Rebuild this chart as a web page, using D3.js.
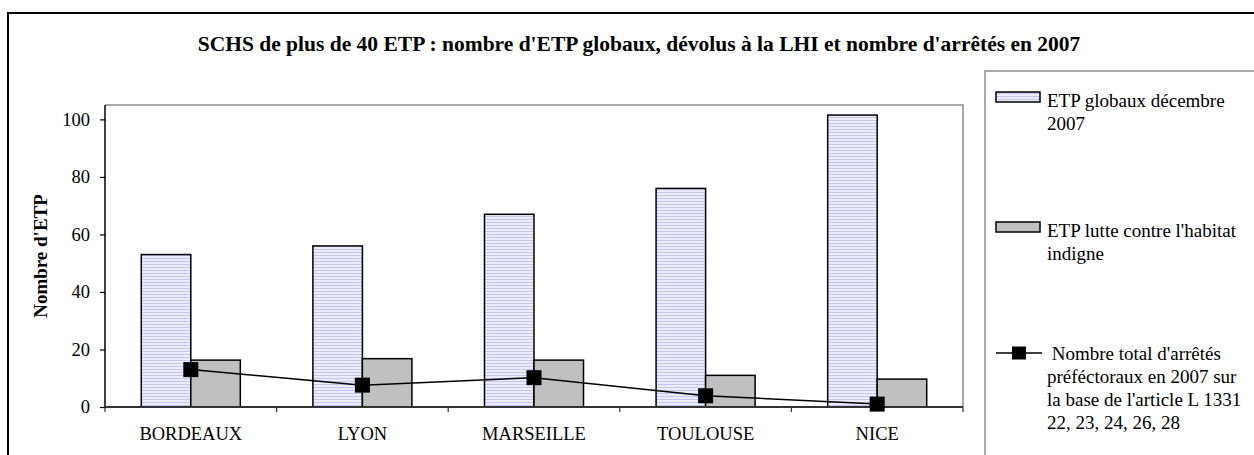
<!DOCTYPE html>
<html>
<head>
<meta charset="utf-8">
<script src="https://cdn.jsdelivr.net/npm/d3@7"></script>
<style>
  body { margin: 0; background: #fff; }
  svg text { font-family: "Liberation Serif", "Times New Roman", serif; fill: #000; }
</style>
</head>
<body>
<svg id="chart" width="1254" height="455"></svg>
<script>
// data
var categories = ["BORDEAUX", "LYON", "MARSEILLE", "TOULOUSE", "NICE"];
var etpGlobaux = [53, 56, 67, 76, 101.5];
var etpLhi = [16.3, 16.8, 16.3, 11, 9.7];
var arretes = [13, 7.6, 10.2, 3.9, 1];
var yTicks = [0, 20, 40, 60, 80, 100];
var seriesNames = ["ETP globaux décembre|2007",
                   "ETP lutte contre l'habitat|indigne",
                   " Nombre total d'arrêtés|préféctoraux en 2007 sur|la base de l'article L 1331|22, 23, 24, 26, 28"];

var svg = d3.select("#chart");

/* ==========================================================================
 * Patterns and frame
 * ========================================================================== */
var defs = svg.append("defs");
var pat = defs.append("pattern").attr("id", "stripes")
    .attr("patternUnits", "userSpaceOnUse").attr("width", 6).attr("height", 3);
pat.append("rect").attr("width", 6).attr("height", 3).attr("fill", "#ececff");
pat.append("rect").attr("width", 6).attr("height", 1).attr("fill", "#c4c4f6");

// outer frame, runs off the right and bottom
svg.append("rect").attr("x", 8).attr("y", 13).attr("width", 1270).attr("height", 470)
    .attr("fill", "none").attr("stroke", "#000").attr("stroke-width", 2);

svg.append("text").attr("x", 639).attr("y", 51).attr("text-anchor", "middle")
    .style("font-weight", "bold").style("font-size", "21.5px")
    .text("SCHS de plus de 40 ETP : nombre d'ETP globaux, dévolus à la LHI et nombre d'arrêtés en 2007");

/* ==========================================================================
 * Plot area
 * ========================================================================== */
var plotLeft = 105, plotRight = 963, plotTop = 105, plotBottom = 407;

var x0 = d3.scaleBand().domain(categories).range([plotLeft, plotRight]);
var x1 = d3.scaleBand().domain([0, 1]).range([0, x0.bandwidth()]).paddingOuter(0.733);
var y = d3.scaleLinear().domain([0, 105]).range([plotBottom, plotTop]);

// gray border on top and right
svg.append("path").attr("d", "M" + plotLeft + "," + plotTop + "H" + plotRight + "V" + plotBottom)
    .attr("fill", "none").attr("stroke", "#8c8c8c").attr("stroke-width", 1.5);

var groups = svg.append("g").selectAll("g").data(categories).join("g")
    .attr("transform", function(d) { return "translate(" + x0(d) + ",0)"; });

groups.append("rect")
    .attr("x", x1(0)).attr("width", x1.bandwidth())
    .attr("y", function(d, i) { return y(etpGlobaux[i]); })
    .attr("height", function(d, i) { return plotBottom - y(etpGlobaux[i]); })
    .attr("fill", "url(#stripes)").attr("stroke", "#000").attr("stroke-width", 1.5);

groups.append("rect")
    .attr("x", x1(1)).attr("width", x1.bandwidth())
    .attr("y", function(d, i) { return y(etpLhi[i]); })
    .attr("height", function(d, i) { return plotBottom - y(etpLhi[i]); })
    .attr("fill", "#c0c0c0").attr("stroke", "#000").attr("stroke-width", 1.5);

// y axis
var yAxis = svg.append("g").attr("transform", "translate(" + plotLeft + ",0)")
    .call(d3.axisLeft(y).tickValues(yTicks).tickSize(5).tickPadding(10).tickSizeOuter(0));
yAxis.select(".domain").attr("d", "M0," + plotTop + "V" + plotBottom).attr("stroke", "#000").attr("stroke-width", 1.5);
yAxis.selectAll("line").attr("stroke", "#000").attr("stroke-width", 1.2);
yAxis.selectAll("text").style("font-size", "18.5px").style("font-family", "Liberation Serif").attr("fill", "#000");

// x axis: ticks on category boundaries
var xAxis = svg.append("g");
xAxis.append("line").attr("x1", plotLeft).attr("x2", plotRight).attr("y1", plotBottom).attr("y2", plotBottom)
    .attr("stroke", "#333").attr("stroke-width", 2);
xAxis.selectAll("line.tick").data(categories.concat(["end"])).join("line")
    .attr("class", "tick")
    .attr("x1", function(d, i) { return plotLeft + i * x0.step(); })
    .attr("x2", function(d, i) { return plotLeft + i * x0.step(); })
    .attr("y1", plotBottom).attr("y2", plotBottom + 5)
    .attr("stroke", "#333").attr("stroke-width", 1.2);
xAxis.selectAll("text").data(categories).join("text")
    .attr("x", function(d) { return x0(d) + x0.bandwidth() / 2; })
    .attr("y", 440).attr("text-anchor", "middle")
    .style("font-size", "18.5px")
    .text(function(d) { return d; });

svg.append("text").attr("transform", "translate(47," + ((plotTop + plotBottom) / 2) + ") rotate(-90)")
    .attr("text-anchor", "middle").style("font-weight", "bold").style("font-size", "19px")
    .text("Nombre d'ETP");

// line series
var lineX = function(i) { return x0(categories[i]) + x0.bandwidth() / 2; };
svg.append("path")
    .attr("d", d3.line().x(function(d, i) { return lineX(i); }).y(function(d) { return y(d); })(arretes))
    .attr("fill", "none").attr("stroke", "#000").attr("stroke-width", 1.5);
svg.append("g").selectAll("rect").data(arretes).join("rect")
    .attr("x", function(d, i) { return lineX(i) - 7.5; })
    .attr("y", function(d) { return y(d) - 7.5; })
    .attr("width", 15).attr("height", 15).attr("fill", "#000");

/* ==========================================================================
 * Legend
 * ========================================================================== */
svg.append("rect").attr("x", 985).attr("y", 71).attr("width", 300).attr("height", 420)
    .attr("fill", "none").attr("stroke", "#8c8c8c").attr("stroke-width", 1.5);

var legendY = [97, 227, 353];
var legend = svg.append("g").selectAll("g").data(seriesNames).join("g");

legend.each(function(d, i) {
    var g = d3.select(this);
    if (i < 2) {
        g.append("rect").attr("x", 996).attr("y", legendY[i] - 5).attr("width", 44).attr("height", 10)
            .attr("fill", i == 0 ? "url(#stripes)" : "#c0c0c0").attr("stroke", "#000").attr("stroke-width", 1.5);
    } else {
        g.append("line").attr("x1", 996).attr("x2", 1042).attr("y1", legendY[i]).attr("y2", legendY[i])
            .attr("stroke", "#000").attr("stroke-width", 1.5);
        g.append("rect").attr("x", 1012).attr("y", legendY[i] - 6.5).attr("width", 14).attr("height", 13)
            .attr("fill", "#000");
    }
    var lines = d.split("|");
    var baseY = i < 2 ? legendY[i] + 9.5 : legendY[i] + 7;
    var t = g.append("text").attr("x", 1047).attr("y", baseY).style("font-size", "19px")
        .attr("xml:space", "preserve");
    lines.forEach(function(s, k) {
        t.append("tspan").attr("x", 1047).attr("y", baseY + k * 23).text(s);
    });
});
</script>
</body>
</html>
